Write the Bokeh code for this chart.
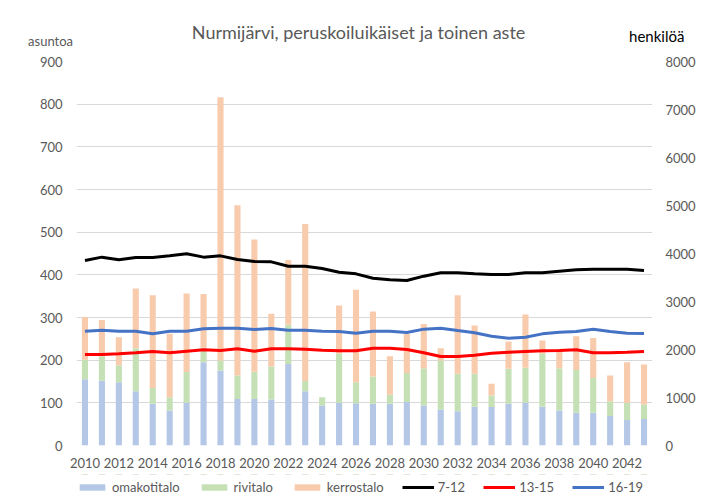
from bokeh.plotting import figure
from bokeh.layouts import column
from bokeh.models import (Range1d, LinearAxis, Legend, LegendItem, Label,
                          FixedTicker, ColumnDataSource)
from bokeh.embed import file_html
from bokeh.resources import INLINE

years = list(range(2010, 2044))
omakotitalo = [155, 152, 148, 127, 98, 82, 100, 195, 176, 109,
               109, 108, 191, 127, 94, 100, 99, 98, 98, 102,
               94, 84, 80, 91, 90, 98, 100, 91, 82, 77,
               77, 69, 60, 62]
rivitalo = [46, 57, 40, 101, 37, 31, 72, 34, 23, 55,
            64, 77, 92, 24, 19, 115, 49, 64, 21, 68,
            87, 115, 88, 77, 27, 82, 82, 124, 99, 100,
            81, 35, 40, 34]
kerrostalo = [100, 85, 66, 140, 217, 149, 184, 126, 617, 399,
              310, 124, 152, 368, 0, 113, 217, 152, 90, 92,
              104, 29, 184, 113, 28, 64, 125, 31, 45, 79,
              94, 60, 95, 94]
v7_12 = [3854, 3924, 3868, 3917, 3917, 3951, 3993, 3924, 3951, 3875,
         3833, 3826, 3736, 3736, 3687, 3611, 3576, 3486, 3451, 3437,
         3528, 3597, 3597, 3576, 3562, 3562, 3597, 3597, 3632, 3660,
         3674, 3674, 3674, 3646]
v13_15 = [1896, 1896, 1910, 1931, 1958, 1931, 1965, 1993, 1979, 2014,
          1965, 2014, 2014, 2007, 1986, 1972, 1972, 2028, 2028, 2000,
          1931, 1854, 1854, 1882, 1924, 1944, 1958, 1972, 1979, 1993,
          1931, 1931, 1944, 1958]
v16_19 = [2382, 2403, 2382, 2382, 2326, 2382, 2382, 2431, 2444, 2444,
          2417, 2438, 2403, 2403, 2382, 2375, 2340, 2382, 2382, 2354,
          2424, 2444, 2396, 2350, 2278, 2236, 2257, 2326, 2361, 2375,
          2424, 2375, 2340, 2333]
left_ticks = [0, 100, 200, 300, 400, 500, 600, 700, 800, 900]
right_ticks = [0, 1000, 2000, 3000, 4000, 5000, 6000, 7000, 8000]
x_ticks = list(range(2010, 2044, 2))

title_text = "Nurmijärvi, peruskoiluikäiset ja toinen aste"
left_unit = "asuntoa"
right_unit = "henkilöä"
bar_names = ["omakotitalo", "rivitalo", "kerrostalo"]
bar_colors = ["#b4c7e7", "#c5e0b4", "#f8cbad"]
line_names = ["7-12", "13-15", "16-19"]
line_colors = ["black", "#ff0000", "#4472c4"]
line_values = [v7_12, v13_15, v16_19]

FONT = "Lato"
GREY = "#595959"
W = 713

src = ColumnDataSource(dict(year=years, omakotitalo=omakotitalo,
                            rivitalo=rivitalo, kerrostalo=kerrostalo))

# ---- main chart
p = figure(width=W, height=474,
           x_range=Range1d(2009.5, 2043.5), y_range=Range1d(0, 900),
           output_backend="svg", toolbar_location=None,
           min_border_left=76, min_border_right=61,
           min_border_top=61, min_border_bottom=29)
p.extra_y_ranges = {"right": Range1d(0, 8000)}
p.outline_line_color = None
p.background_fill_color = "white"
p.border_fill_color = "white"

la = p.yaxis[0]
la.ticker = FixedTicker(ticks=left_ticks)
ba = p.xaxis[0]
ba.ticker = FixedTicker(ticks=x_ticks)
ra = LinearAxis(y_range_name="right", ticker=FixedTicker(ticks=right_ticks))
p.add_layout(ra, "right")
for ax in (la, ba, ra):
    ax.axis_line_color = None
    ax.major_tick_line_color = None
    ax.minor_tick_line_color = None
    ax.major_tick_out = 0
    ax.major_tick_in = 0
    ax.major_label_text_font = FONT
    ax.major_label_text_font_size = "13px"
    ax.major_label_text_color = GREY
la.major_label_standoff = 14
ra.major_label_standoff = 13
ba.major_label_standoff = 12

p.xgrid.grid_line_color = None
p.ygrid.ticker = FixedTicker(ticks=left_ticks)
p.ygrid.grid_line_color = "#d9d9d9"
p.ygrid.grid_line_width = 1

p.vbar_stack(bar_names, x="year", width=0.36, color=bar_colors,
             line_color=None, source=src)
for vals, col in zip(line_values, line_colors):
    p.line(years, vals, y_range_name="right", line_color=col, line_width=3)

# header texts placed in the top side panel (data coordinates of the frame)
p.add_layout(Label(x=2026.15, y=970.3, text=title_text, text_align="center",
                   text_baseline="middle", text_font=FONT,
                   text_font_size="18px", text_color=GREY), "above")
p.add_layout(Label(x=2007.97, y=949.2, text=left_unit, text_align="center",
                   text_baseline="middle", text_font=FONT,
                   text_font_size="13px", text_color=GREY), "above")
p.add_layout(Label(x=2043.75, y=958.6, text=right_unit, text_align="center",
                   text_baseline="middle", text_font=FONT,
                   text_font_size="15px", text_color="black"), "above")

# ---- legend strip (same series, kept above its visible range so only the
# legend shows)
bot = figure(width=W, height=30, x_range=Range1d(2009.5, 2043.5),
             y_range=Range1d(-1000, -900),
             output_backend="svg", toolbar_location=None,
             x_axis_location=None, y_axis_location=None, min_border=0)
bot.outline_line_color = None
bot.xgrid.grid_line_color = None
bot.ygrid.grid_line_color = None
bot.background_fill_color = "white"
bot.border_fill_color = "white"
bars_l = bot.vbar_stack(bar_names, x="year", width=0.36, color=bar_colors,
                        line_color=None, source=src)
lines_l = [bot.line(years, vals, line_color=col, line_width=3)
           for vals, col in zip(line_values, line_colors)]
items = [LegendItem(label=n, renderers=[r]) for n, r in zip(bar_names, bars_l)]
items += [LegendItem(label=n, renderers=[r]) for n, r in zip(line_names, lines_l)]
legend = Legend(items=items, orientation="horizontal", location=(0, 9),
                glyph_width=32, glyph_height=8, label_height=14,
                label_text_font=FONT, label_text_font_size="13px",
                label_text_color=GREY, label_standoff=4, spacing=18,
                padding=0, margin=0, border_line_color=None,
                background_fill_alpha=0)
bot.add_layout(legend)

layout = column(p, bot, spacing=0)
open("out.html", "w").write(file_html(layout, INLINE))
